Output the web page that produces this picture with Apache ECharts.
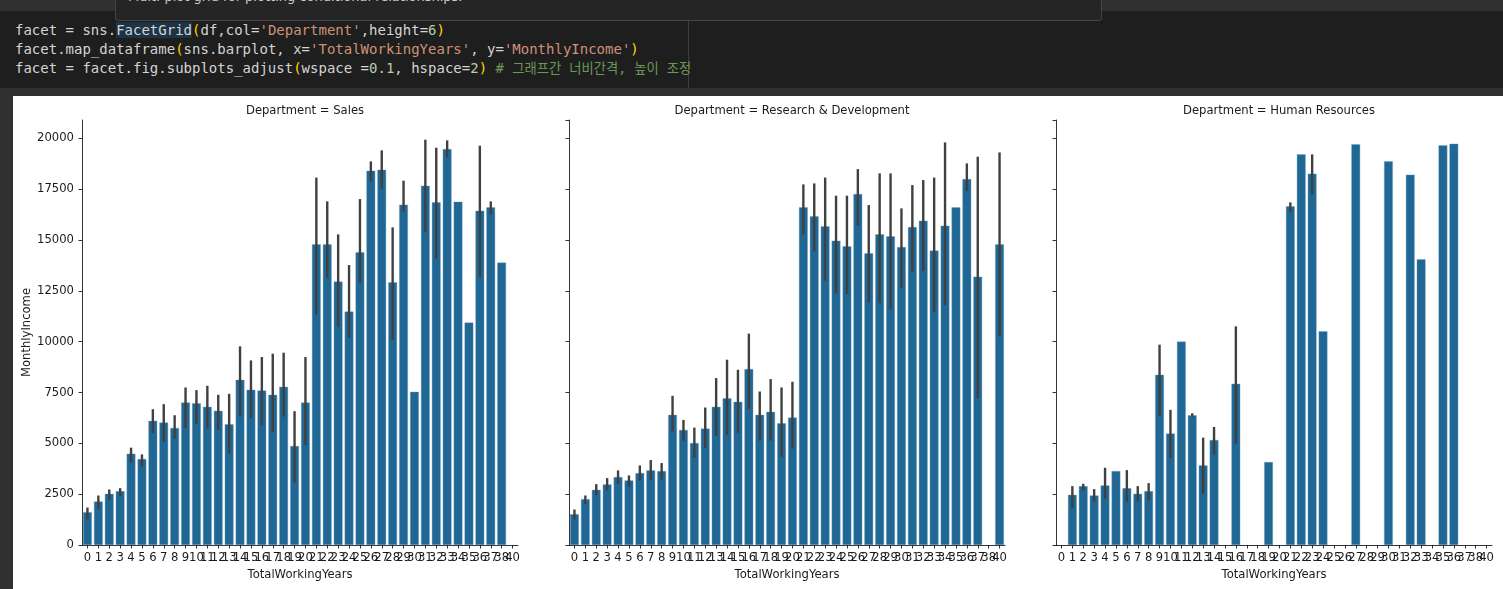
<!DOCTYPE html>
<html>
<head>
    <meta charset="UTF-8">
    <title>FacetGrid barplot</title>
    <style>
        html, body { margin: 0; padding: 0; }
        body { width: 1503px; height: 589px; overflow: hidden; background: #313131; position: relative; }
        .code-cell { position: absolute; left: 0; top: 11px; width: 1503px; height: 77px; background: #1e1e1e; }
        .ruler { position: absolute; left: 688px; top: 0; width: 1px; height: 77px; background: #3c3c3c; }
        .code { position: absolute; left: 15px; top: 10px; margin: 0; font-family: "DejaVu Sans Mono", monospace; font-size: 14px; line-height: 19px; color: #d4d4d4; white-space: pre; }
        .hl { background: #1d3446; }
        .br { color: #ffd700; }
        .st { color: #ce9178; }
        .nu { color: #b5cea8; }
        .cm { color: #6a9955; }
        .ko { font-family: "DejaVu Sans Mono", "Noto Sans CJK KR", monospace; font-size: 13.3px; }
        .hover-doc { position: absolute; left: 115px; top: -1px; width: 985px; height: 20px; background: #252526; border: 1px solid #454545; border-radius: 3px; overflow: hidden; }
        .hover-doc span { position: absolute; left: 12px; top: -11px; font-family: "DejaVu Sans", sans-serif; font-size: 13px; color: #cccccc; white-space: nowrap; }
        #main { position: absolute; left: 13px; top: 96px; width: 1490px; height: 493px; background: #ffffff; }
    </style>
</head>
<body>
<div class="code-cell">
    <div class="ruler"></div>
<pre class="code">facet = sns.<span class="hl">FacetGrid</span><span class="br">(</span>df,col=<span class="st">'Department'</span>,height=<span class="nu">6</span><span class="br">)</span>
facet.map_dataframe<span class="br">(</span>sns.barplot, x=<span class="st">'TotalWorkingYears'</span>, y=<span class="st">'MonthlyIncome'</span><span class="br">)</span>
facet = facet.fig.subplots_adjust<span class="br">(</span>wspace =<span class="nu">0.1</span>, hspace=<span class="nu">2</span><span class="br">)</span> <span class="cm"># <span class="ko">그래프간 너비간격, 높이 조정</span></span></pre>
</div>
<div class="hover-doc"><span>Multi-plot grid for plotting conditional relationships.</span></div>
<div id="main"></div>
<script src="https://cdn.jsdelivr.net/npm/echarts@6/dist/echarts.min.js"></script>
<script>
    // x 카테고리 (39 없음)
    var years = ['0','1','2','3','4','5','6','7','8','9','10','11','12','13','14','15','16','17','18','19',
        '20','21','22','23','24','25','26','27','28','29','30','31','32','33','34','35','36','37','38','40'];
    var departments = ['Sales', 'Research & Development', 'Human Resources'];

    // Sales
    var salesMean = [1612, 2138, 2516, 2648, 4490, 4227, 6102, 6020, 5757, 7007, 6974, 6793, 6595, 5938, 8125, 7632, 7599, 7385, 7780, 4868,
        7007, 14783, 14783, 12950, 11475, 14390, 18407, 18456, 12915, 16735, 7533, 17670, 16848, 19469, 16882, 10934, 16440, 16603, 13884, null];
    var salesLow = [1250, 1776, 2237, 2401, 4050, 3849, 5493, 5066, 5230, 5740, 5954, 5724, 5658, 4507, 6316, 6234, 5872, 5559, 6316, 3059,
        4918, 11327, 13128, 10718, 10197, 12881, 17896, 17522, 10098, 16391, null, 15388, 14061, 19046, null, null, 13176, 16243, null, null];
    var salesHigh = [1842, 2434, 2730, 2796, 4786, 4457, 6678, 6924, 6382, 7747, 7615, 7829, 7385, 7434, 9770, 9079, 9243, 9408, 9457, 6579,
        9243, 18068, 16898, 15275, 13766, 17011, 18865, 19405, 15620, 17915, null, 19931, 19537, 19897, null, null, 19636, 16898, null, null];

    // Research & Development
    var rdMean = [1513, 2253, 2714, 2977, 3339, 3174, 3536, 3668, 3635, 6398, 5658, 5016, 5724, 6793, 7220, 7039, 8651, 6398, 6546, 5987,
        6266, 16603, 16160, 15668, 14965, 14685, 17256, 14341, 15275, 15177, 14651, 15634, 15949, 14474, 15703, 16603, 17994, 13195, null, 14783];
    var rdLow = [1250, 2023, 2451, 2681, 3010, 2862, 3174, 3191, 3224, 5576, 5132, 4293, 4786, 5362, 5411, 5526, 6694, 5132, 5132, 4342,
        4737, 15290, 14439, 12999, 12389, 12340, 15703, 11932, 11898, 11603, 12635, 13441, 13471, 11440, 11800, null, 17404, 7220, null, 10261];
    var rdHigh = [1743, 2434, 2993, 3289, 3668, 3421, 3914, 4178, 4030, 7336, 6151, 5773, 6760, 8207, 9112, 8618, 10396, 7549, 8158, 7747,
        8026, 17733, 17782, 18068, 17178, 17178, 18486, 16716, 18274, 18274, 16554, 17700, 17946, 18068, 19798, null, 18766, 19095, null, 19307];

    // Human Resources
    var hrMean = [null, 2467, 2895, 2434, 2928, 3635, 2796, 2516, 2648, 8372, 5477, 10000, 6382, 3914, 5164, null, 7928, null, null, 4079,
        null, 16652, 19208, 18259, 10506, null, null, 19700, null, null, 18865, null, 18210, 14046, null, 19651, 19734, null, null, null];
    var hrLow = [null, 1826, 2697, 2122, 2270, null, 2122, 2155, 2204, 6349, 4276, null, 6299, 2516, 4457, null, 4984, null, null, null,
        null, 16357, null, 17242, null, null, null, null, null, null, null, null, null, null, null, null, null, null, null, null];
    var hrHigh = [null, 2895, 3010, 2747, 3799, null, 3684, 2895, 3043, 9852, 6645, null, 6480, 5280, 5806, null, 10752, null, null, null,
        null, 16849, null, 19208, null, null, null, null, null, null, null, null, null, null, null, null, null, null, null, null];

    var yTicks = [0, 2500, 5000, 7500, 10000, 12500, 15000, 17500, 20000];

    var means = [salesMean, rdMean, hrMean];
    var lows = [salesLow, rdLow, hrLow];
    var highs = [salesHigh, rdHigh, hrHigh];

    var barColor = '#1f6794';
    var errColor = '#404040';
    var textColor = '#1a1a1a';
    var font = 'DejaVu Sans';
    var fs = 11.6;

    // 패널 위치
    var panelLeft = [69, 556, 1043];
    var panelWidth = 436;
    var centers = panelLeft.map(function (l) { return l + panelWidth / 2; });

    function errData(lo, hi) {
        var out = [];
        for (var i = 0; i < lo.length; i++) {
            if (lo[i] != null && hi[i] != null) out.push([i, lo[i], hi[i]]);
        }
        return out;
    }

    function renderErr(params, api) {
        var p1 = api.coord([api.value(0), api.value(1)]);
        var p2 = api.coord([api.value(0), api.value(2)]);
        return {
            type: 'line',
            shape: {x1: p1[0], y1: p1[1], x2: p2[0], y2: p2[1]},
            style: {stroke: errColor, lineWidth: 2.4}
        };
    }

    var myChart = echarts.init(document.getElementById('main'));

    var grids = [], xAxes = [], yAxes = [], titles = [], series = [];
    for (var k = 0; k < 3; k++) {
        grids.push({left: panelLeft[k], top: 24, width: panelWidth, height: 425, containLabel: false});
        titles.push({
            text: 'Department = ' + departments[k],
            left: centers[k], top: 4, textAlign: 'center',
            textStyle: {fontFamily: font, fontSize: fs, fontWeight: 'normal', color: textColor}
        });
        xAxes.push({
            type: 'category', gridIndex: k, data: years,
            name: 'TotalWorkingYears', nameLocation: 'middle', nameGap: 23,
            nameTextStyle: {fontFamily: font, fontSize: fs, color: textColor},
            axisLine: {show: true, lineStyle: {color: '#000', width: 0.8}},
            axisTick: {show: true, alignWithLabel: true, length: 3.5, lineStyle: {color: '#000', width: 0.8}},
            axisLabel: {interval: 0, margin: 7, fontFamily: font, fontSize: fs, color: textColor, hideOverlap: false},
            splitLine: {show: false}
        });
        yAxes.push({
            type: 'value', gridIndex: k, min: 0, max: 20900, interval: 2500,
            name: k === 0 ? 'MonthlyIncome' : '', nameLocation: 'middle', nameGap: 48,
            nameTextStyle: {fontFamily: font, fontSize: fs, color: textColor},
            axisLine: {show: true, lineStyle: {color: '#000', width: 0.8}},
            axisTick: {show: true, length: 3.5, lineStyle: {color: '#000', width: 0.8}},
            axisLabel: {
                show: k === 0, margin: 8, fontFamily: font, fontSize: fs, color: textColor,
                showMaxLabel: false,
                formatter: function (v) { return yTicks.indexOf(v) >= 0 ? String(v) : ''; }
            },
            splitLine: {show: false}
        });
        series.push({
            type: 'bar', xAxisIndex: k, yAxisIndex: k,
            data: means[k], barWidth: '80%',
            itemStyle: {color: barColor, borderColor: '#6f9cbc', borderWidth: 0.4},
            animation: false
        });
        series.push({
            type: 'custom', xAxisIndex: k, yAxisIndex: k,
            data: errData(lows[k], highs[k]),
            encode: {x: 0, y: [1, 2]},
            renderItem: renderErr,
            z: 5, animation: false
        });
    }

    var option = {
        backgroundColor: '#ffffff',
        animation: false,
        title: titles,
        grid: grids,
        xAxis: xAxes,
        yAxis: yAxes,
        series: series
    };
    myChart.setOption(option);
</script>
</body>
</html>
